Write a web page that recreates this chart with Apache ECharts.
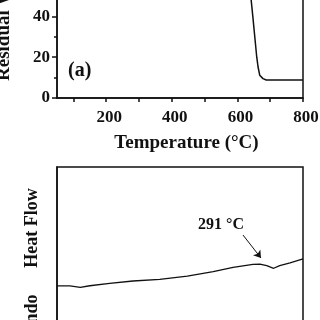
<!DOCTYPE html>
<html lang="en">
<head>
  <meta charset="UTF-8">
  <title>TGA / DSC</title>
  <script src="https://cdn.jsdelivr.net/npm/echarts@6/dist/echarts.min.js"></script>
  <style>
    html, body { margin: 0; padding: 0; background: #fff; }
    #main { width: 320px; height: 320px; }
  </style>
</head>
<body>
<div id="main"></div>
<script type="text/javascript">
// (a) TGA: temperature (°C) vs residual weight (%)
var tgaTemp = [50, 150, 300, 450, 550, 600, 620, 635, 642, 647, 659, 663, 668, 678, 688, 700, 800];
var tgaWeight = [100, 99.5, 98.5, 97, 93, 88, 75, 58, 48, 40, 20, 15.2, 11.2, 9.5, 8.8, 8.8, 8.8];
var tgaTicks = [100, 200, 300, 400, 500, 600, 700, 800];
var tgaLabels = [200, 400, 600, 800];

// DSC: temperature (°C) vs heat flow (arbitrary units)
var dscTemp = [40, 55, 67, 78, 101, 128, 159, 191, 221, 244, 267, 275, 283, 291, 298, 310, 325];
var dscFlow = [37.4, 37.4, 36.7, 37.5, 38.8, 40, 40.9, 42.6, 44.9, 47.2, 48.8, 48.9, 48.1, 46.7, 48.1, 49.6, 51.6];

function pairs(xs, ys) {
  var out = [];
  for (var i = 0; i < xs.length; i++) out.push([xs[i], ys[i]]);
  return out;
}

var serif = 'Liberation Serif, Times New Roman, serif';
var black = '#111';
var lineStyle = { color: black, width: 1.5 };

var myChart = echarts.init(document.getElementById('main'));
var option = {
  animation: false,
  backgroundColor: '#fff',
  grid: [
    { left: 57, right: 17, top: -106, height: 204, show: true, borderColor: black, borderWidth: 1.5,
      containLabel: false, outerBoundsMode: 'none' },
    { left: 57, right: 17, top: 167, height: 190, show: true, borderColor: black, borderWidth: 1.5,
      containLabel: false, outerBoundsMode: 'none' }
  ],
  xAxis: [
    {
      gridIndex: 0, type: 'value', min: 50, max: 800,
      axisLine: { lineStyle: lineStyle },
      axisTick: { customValues: tgaTicks, inside: false, length: 4, lineStyle: lineStyle },
      axisLabel: { customValues: tgaLabels, margin: 11, fontSize: 17, fontWeight: 'bold', fontFamily: serif,
        color: black, padding: [0, 0, 0, 6] },
      splitLine: { show: false },
      name: 'Temperature (°C)', nameLocation: 'middle', nameGap: 36,
      nameTextStyle: { fontSize: 19, fontWeight: 'bold', fontFamily: serif, color: black, padding: [0, 0, 0, 13] }
    },
    {
      gridIndex: 1, type: 'value', min: 40, max: 325,
      axisLine: { lineStyle: lineStyle },
      axisTick: { show: false },
      axisLabel: { show: false },
      splitLine: { show: false }
    }
  ],
  yAxis: [
    {
      gridIndex: 0, type: 'value', min: 0, max: 100, interval: 20,
      axisLine: { show: true, lineStyle: lineStyle },
      axisTick: { inside: false, length: 5, lineStyle: lineStyle },
      minorTick: { show: true, splitNumber: 2, length: 3, lineStyle: lineStyle },
      axisLabel: { margin: 7, fontSize: 17, fontWeight: 'bold', fontFamily: serif, color: black },
      splitLine: { show: false },
      name: 'Residual Weight (%)', nameLocation: 'middle', nameGap: 38,
      nameTextStyle: { fontSize: 19, fontWeight: 'bold', fontFamily: serif, color: black }
    },
    {
      gridIndex: 1, type: 'value', min: 0, max: 100,
      axisLine: { show: true, lineStyle: lineStyle },
      axisTick: { show: false },
      axisLabel: { show: false },
      splitLine: { show: false }
    }
  ],
  graphic: [
    { type: 'text', left: 68, top: 61, style: { text: '(a)', font: 'bold 20px ' + serif, fill: black } },
    { type: 'text', left: 198, top: 217, style: { text: '291 °C', font: 'bold 16px ' + serif, fill: black } },
    { type: 'text', x: 32, y: 228, rotation: Math.PI / 2,
      style: { text: 'Heat Flow', font: 'bold 18px ' + serif, fill: black, align: 'center', verticalAlign: 'middle' } },
    { type: 'text', x: 32, y: 315, rotation: Math.PI / 2,
      style: { text: 'Endo', font: 'bold 18px ' + serif, fill: black, align: 'center', verticalAlign: 'middle' } }
  ],
  series: [
    {
      type: 'line', xAxisIndex: 0, yAxisIndex: 0,
      data: pairs(tgaTemp, tgaWeight),
      showSymbol: false, lineStyle: lineStyle, clip: true
    },
    {
      type: 'line', xAxisIndex: 1, yAxisIndex: 1,
      data: pairs(dscTemp, dscFlow),
      showSymbol: false, lineStyle: { color: black, width: 1.3 },
      markLine: {
        silent: true,
        symbol: ['none', 'arrow'], symbolSize: 7,
        label: { show: false },
        lineStyle: { color: black, width: 1, type: 'solid' },
        data: [[{ coord: [255.5, 64.2] }, { coord: [276.3, 52.1] }]]
      }
    }
  ]
};
myChart.setOption(option);
</script>
</body>
</html>
